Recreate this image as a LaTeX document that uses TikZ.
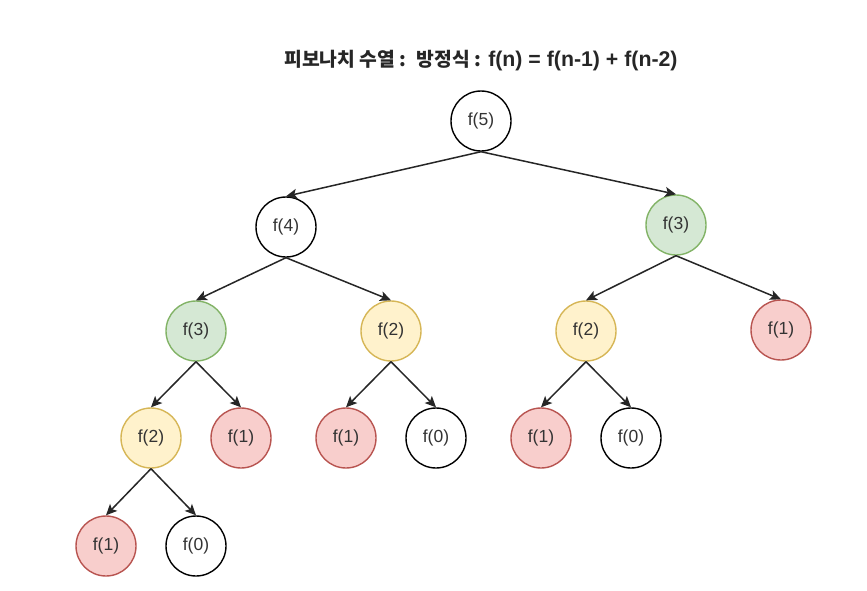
\documentclass[tikz,border=0pt]{standalone}
\usepackage{fontspec}
\setmainfont{Liberation Sans}
\newfontfamily\kr{Noto Sans CJK KR}
\usetikzlibrary{arrows.meta}
\definecolor{gfill}{HTML}{D5E8D4}\definecolor{gdraw}{HTML}{82B366}
\definecolor{yfill}{HTML}{FFF2CC}\definecolor{ydraw}{HTML}{D6B656}
\definecolor{rfill}{HTML}{F8CECC}\definecolor{rdraw}{HTML}{B85450}
\definecolor{txt}{HTML}{333333}
\tikzset{
  fn/.style={circle, minimum size=60pt, inner sep=0pt, line width=1.4pt, draw=black, fill=white, text=txt, font=\fontsize{17.5}{20}\selectfont},
  gn/.style={fn, draw=gdraw, fill=gfill},
  yn/.style={fn, draw=ydraw, fill=yfill},
  rn/.style={fn, draw=rdraw, fill=rfill},
  arr/.style={line width=1.5pt, -{Stealth[length=11pt,width=10pt,inset=2.5pt]}, black!85}
}
\begin{document}
\begin{tikzpicture}[x=1pt,y=-1pt]
\useasboundingbox (0,0) rectangle (867,590);
\node[font=\bfseries\fontsize{21.3}{24}\selectfont, text=black!85, inner sep=0pt] (title) at (481,61) {{\kr\fontsize{19.3}{22}\selectfont 피보나치 수열 :~ 방정식 :}\kern-1pt{} f(n) = f(n-1) + f(n-2)};
\node[fn] (n5) at (481,121) {f(5)};
\node[fn] (n4) at (286,227) {f(4)};
\node[gn] (r3) at (676,225) {f(3)};
\node[gn] (l3) at (196,331) {f(3)};
\node[yn] (m2) at (391,331) {f(2)};
\node[yn] (r2) at (586,331) {f(2)};
\node[rn] (r1) at (781,330) {f(1)};
\node[yn] (l2) at (151,438) {f(2)};
\node[rn] (a1) at (241,438) {f(1)};
\node[rn] (b1) at (346,438) {f(1)};
\node[fn] (b0) at (436,438) {f(0)};
\node[rn] (c1) at (541,438) {f(1)};
\node[fn] (c0) at (631,438) {f(0)};
\node[rn] (d1) at (106,546) {f(1)};
\node[fn] (d0) at (196,546) {f(0)};
\draw[arr] (n5.south) -- (n4.north);
\draw[arr] (n5.south) -- (r3.north);
\draw[arr] (n4.south) -- (l3.north);
\draw[arr] (n4.south) -- (m2.north);
\draw[arr] (r3.south) -- (r2.north);
\draw[arr] (r3.south) -- (r1.north);
\draw[arr] (l3.south) -- (l2.north);
\draw[arr] (l3.south) -- (a1.north);
\draw[arr] (m2.south) -- (b1.north);
\draw[arr] (m2.south) -- (b0.north);
\draw[arr] (r2.south) -- (c1.north);
\draw[arr] (r2.south) -- (c0.north);
\draw[arr] (l2.south) -- (d1.north);
\draw[arr] (l2.south) -- (d0.north);
\end{tikzpicture}
\end{document}
